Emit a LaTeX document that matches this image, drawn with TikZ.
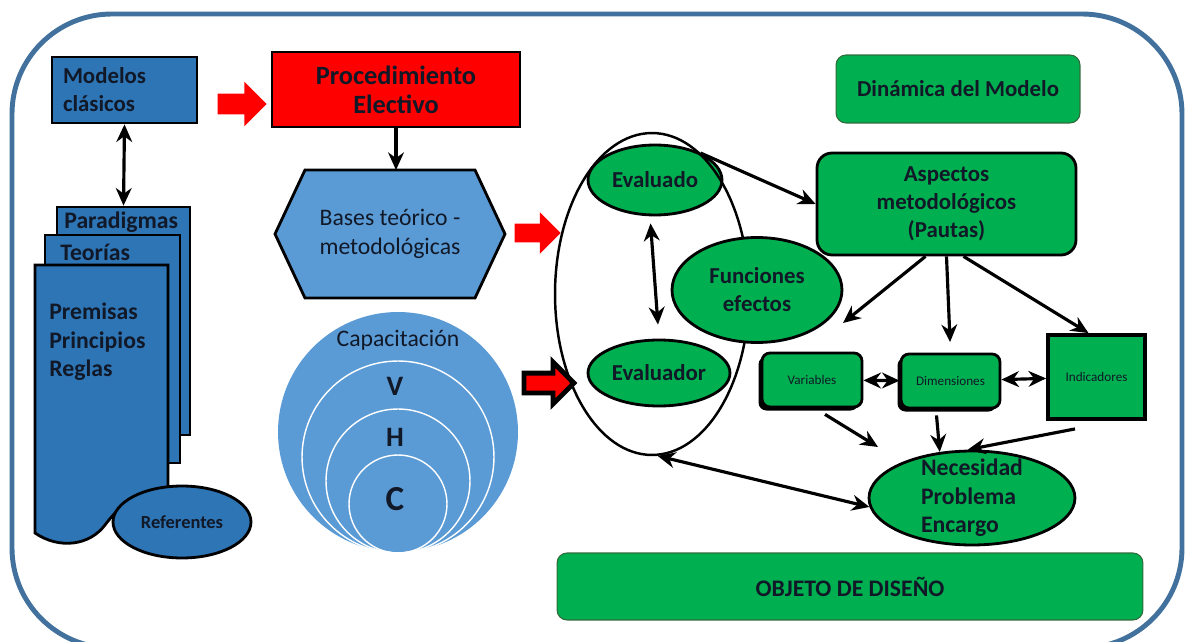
\documentclass[tikz,border=0pt]{standalone}
\usepackage{fontspec}
\setmainfont{Carlito}
\usetikzlibrary{shapes.geometric, shapes.arrows, arrows.meta, shadows}
\definecolor{azulfuerte}{HTML}{2E75B6}
\definecolor{azulclaro}{HTML}{5B9BD5}
\definecolor{verde}{HTML}{00B050}
\definecolor{rojo}{HTML}{FF0000}
\definecolor{marco}{HTML}{41719C}
\definecolor{tinta}{HTML}{111827}
\definecolor{bordeverde}{HTML}{2F6B3A}

\begin{document}
\begin{tikzpicture}[x=0.02cm, y=-0.02cm,
    every node/.style={text=tinta},
    negrita/.style={font=\bfseries\fontsize{13}{16}\selectfont},
    grande/.style={font=\bfseries\fontsize{13.5}{16.2}\selectfont},
    normal/.style={font=\fontsize{13.5}{16.5}\selectfont},
    chico/.style={font=\fontsize{7.5}{9}\selectfont},
    caja/.style={draw=black, line width=1.6pt, inner sep=0pt},
    hoja/.style={caja, fill=azulfuerte, minimum width=2.66cm, minimum height=4.56cm},
    elipse/.style={ellipse, draw=black, line width=1.6pt, fill=verde, inner sep=0pt, negrita},
    verdecaja/.style={draw=black, line width=1.6pt, fill=verde, rounded corners=0.16cm, inner sep=0pt},
    sombra/.style={drop shadow={shadow xshift=-2pt, shadow yshift=-2pt, fill=black, opacity=1}},
    panel/.style={draw=bordeverde, line width=0.6pt, fill=verde, rounded corners=0.2cm, inner sep=0pt},
    flecha/.style={line width=1.8pt, -{Stealth[length=10pt, width=9pt]}},
    doble/.style={line width=1.8pt, {Stealth[length=10pt, width=9pt]}-{Stealth[length=10pt, width=9pt]}},
    bloque/.style={single arrow, fill=rojo, inner xsep=0pt, inner ysep=0.2cm,
        minimum height=0.98cm, single arrow head extend=0.24cm}
]
\useasboundingbox (0,0) rectangle (1187,642);
\draw[marco, line width=2.8pt, rounded corners=2cm] (12,14) rectangle (1182,648);

% modelos y procedimiento
\node[caja, fill=azulfuerte, minimum width=2.9cm, minimum height=1.32cm,
    text width=2.46cm, align=left, negrita] (modelos) at (124.5,90) {Modelos\\clásicos};
\node[caja, fill=rojo, minimum width=4.96cm, minimum height=1.5cm, align=center,
    font=\bfseries\fontsize{15}{16.5}\selectfont] (proc) at (396,89.5) {Procedimiento\\Electivo};
\node[bloque] (f1) at (237,104) {};

% hojas apiladas
\node[hoja] (paradigmas) at (123.5,321) {};
\node[grande, anchor=west, inner sep=0pt] (paradigmastxt) at (64,222) {Paradigmas};
\node[hoja, minimum width=2.7cm] (teorias) at (112.5,349) {};
\node[grande, anchor=west, inner sep=0pt] (teoriastxt) at (60,252) {Teorías};
\draw[caja, fill=azulfuerte] (35,265) -- (168,265) -- (168,490)
    .. controls (140,488) and (120,505) .. (105,525)
    .. controls (90,545) and (60,550) .. (35,533) -- cycle;
\node[grande, anchor=north west, align=left, inner sep=0pt] (premisas) at (49,303) {Premisas\\Principios\\Reglas};
\node[ellipse, caja, fill=azulfuerte, minimum width=2.76cm, minimum height=1.44cm,
    font=\bfseries\fontsize{10.5}{12}\selectfont] (referentes) at (182,522) {Referentes};
\draw[doble] (modelos.south) -- (paradigmas.north);

% bases
\coordinate (b1) at (275,234);
\coordinate (b2) at (305,170);
\coordinate (b3) at (475,170);
\coordinate (b4) at (505,234);
\coordinate (b5) at (475,298);
\coordinate (b6) at (305,298);
\coordinate (btop) at (396,170);
\draw[caja, fill=azulclaro] (b1) -- (b2) -- (b3) -- (b4) -- (b5) -- (b6) -- cycle;
\node[normal, align=center] (bases) at (390,234) {Bases teórico -\\metodológicas};
\draw[flecha] (proc.south) -- (btop);
\node[bloque, minimum height=0.92cm, inner ysep=0.18cm, single arrow head extend=0.23cm] (f2) at (533,233) {};

% capacitacion
\node[circle, fill=azulclaro, minimum size=4.8cm] (capacitacion) at (398,432) {};
\draw[white, line width=0.8pt] (398,457) circle[radius=1.92cm];
\draw[white, line width=0.8pt] (398,481) circle[radius=1.44cm];
\draw[white, line width=0.8pt] (398,504) circle[radius=0.98cm];
\node[normal] (capacitaciontxt) at (398,340) {Capacitación};
\node[font=\bfseries\fontsize{16}{18}\selectfont] (v) at (395,386) {V};
\node[font=\bfseries\fontsize{16}{18}\selectfont] (h) at (395,437) {H};
\node[font=\bfseries\fontsize{20}{22}\selectfont] (c) at (395,499) {C};
\node[bloque, draw=black, line width=2.8pt, minimum height=1cm, inner ysep=0.15cm,
    single arrow head extend=0.22cm] (f3) at (544,383) {};

% ciclo evaluativo
\node[elipse, minimum width=2.68cm, minimum height=1.4cm] (evaluado) at (655,180) {Evaluado};
\node[elipse, minimum width=2.84cm, minimum height=1.32cm] (evaluador) at (659,373) {Evaluador};
\node[ellipse, draw=black, line width=1.4pt, minimum width=3.88cm, minimum height=6.44cm] (ciclo) at (652,294) {};
\node[elipse, minimum width=3.4cm, minimum height=2.1cm, align=center] (funciones) at (757,290) {Funciones\\efectos};
\draw[doble, shorten <=4pt, shorten >=8pt] ([xshift=-0.1cm]evaluado.south) -- (evaluador.north);

% dinamica del modelo
\node[panel, minimum width=4.88cm, minimum height=1.36cm,
    font=\bfseries\fontsize{13}{15}\selectfont] (dinamica) at (958,89) {Dinámica del Modelo};
\node[verdecaja, rounded corners=0.3cm, minimum width=5.18cm, minimum height=2.04cm,
    align=center, negrita] (aspectos) at (946.5,204) {Aspectos\\metodológicos\\(Pautas)};
\draw[flecha] (ciclo.71) -- (aspectos.west);

\node[verdecaja, sombra, chico, minimum width=2cm, minimum height=1.08cm] (variables) at (812,380) {Variables};
\node[verdecaja, sombra, chico, minimum width=1.98cm, minimum height=1.08cm] (dimensiones) at (950.5,381) {Dimensiones};
\node[verdecaja, chico, sharp corners, line width=2.2pt, minimum width=1.94cm, minimum height=1.68cm] (indicadores) at (1096.5,377) {Indicadores};

\coordinate (pv) at (843,323);
\draw[flecha] ([xshift=-0.42cm]aspectos.south) -- (pv);
\draw[flecha, shorten >=6pt] (aspectos.south) -- (dimensiones.north);
\draw[flecha] ([xshift=0.34cm]aspectos.south) -- ([xshift=-0.16cm]indicadores.north);
\draw[doble] (variables) -- (dimensiones);
\draw[doble] (dimensiones) -- (indicadores);

\node[elipse, minimum width=4.12cm, minimum height=1.88cm] (necesidad) at (972,498) {};
\node[grande, align=left, inner sep=0pt] (necesidadtxt) at (necesidad) {Necesidad\\Problema\\Encargo};
\coordinate (pn) at (878,447);
\draw[flecha] ([xshift=0.26cm, yshift=-0.12cm]variables.south) -- (pn);
\draw[flecha] ([xshift=-0.28cm, yshift=-0.12cm]dimensiones.south) -- (necesidad.125);
\draw[flecha] ([xshift=-0.43cm, yshift=-0.16cm]indicadores.south) -- (necesidad.95);
\draw[doble] (necesidad.185) -- (ciclo.-88);

\node[panel, minimum width=11.72cm, minimum height=1.34cm,
    font=\bfseries\fontsize{13.5}{15}\selectfont] (objeto) at (850,586.5) {OBJETO DE DISEÑO};
\end{tikzpicture}
\end{document}
